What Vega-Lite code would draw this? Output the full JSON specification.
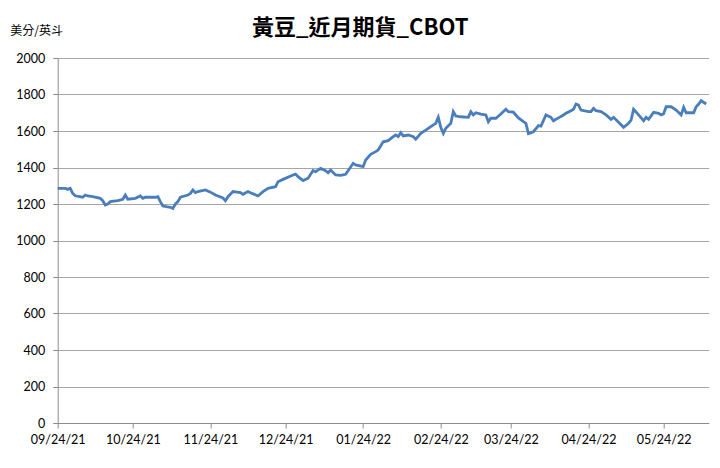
{
  "$schema": "https://vega.github.io/schema/vega-lite/v6.json",
  "width": 651,
  "height": 365,
  "autosize": "none",
  "padding": {"left": 57.7, "top": 58, "right": 11.3, "bottom": 45},
  "background": "white",
  "title": {
    "text": "黃豆_近月期貨_CBOT",
    "font": "Noto Sans CJK TC",
    "fontSize": 22,
    "fontWeight": "bold",
    "color": "#000000",
    "anchor": "middle",
    "frame": "group",
    "dx": -23,
    "dy": 28,
    "offset": 12
  },
  "data": {
    "format": {"parse": {"date": "date:'%Y-%m-%d'"}},
    "values": [
      {"date": "2021-09-24", "price": 1286}, {"date": "2021-09-27", "price": 1286}, {"date": "2021-09-28", "price": 1280},
      {"date": "2021-09-29", "price": 1286}, {"date": "2021-09-30", "price": 1258}, {"date": "2021-10-01", "price": 1245},
      {"date": "2021-10-04", "price": 1237}, {"date": "2021-10-05", "price": 1249}, {"date": "2021-10-06", "price": 1244},
      {"date": "2021-10-08", "price": 1240}, {"date": "2021-10-11", "price": 1231}, {"date": "2021-10-12", "price": 1218},
      {"date": "2021-10-13", "price": 1195}, {"date": "2021-10-14", "price": 1200}, {"date": "2021-10-15", "price": 1213},
      {"date": "2021-10-18", "price": 1218}, {"date": "2021-10-20", "price": 1226}, {"date": "2021-10-21", "price": 1249},
      {"date": "2021-10-22", "price": 1226}, {"date": "2021-10-25", "price": 1231}, {"date": "2021-10-27", "price": 1244},
      {"date": "2021-10-28", "price": 1231}, {"date": "2021-10-29", "price": 1237}, {"date": "2021-11-02", "price": 1237},
      {"date": "2021-11-03", "price": 1240}, {"date": "2021-11-04", "price": 1213}, {"date": "2021-11-05", "price": 1189},
      {"date": "2021-11-08", "price": 1182}, {"date": "2021-11-09", "price": 1176}, {"date": "2021-11-10", "price": 1200},
      {"date": "2021-11-11", "price": 1213}, {"date": "2021-11-12", "price": 1237}, {"date": "2021-11-15", "price": 1249},
      {"date": "2021-11-16", "price": 1258}, {"date": "2021-11-17", "price": 1277}, {"date": "2021-11-18", "price": 1262},
      {"date": "2021-11-19", "price": 1268}, {"date": "2021-11-22", "price": 1277}, {"date": "2021-11-24", "price": 1265},
      {"date": "2021-11-26", "price": 1249}, {"date": "2021-11-29", "price": 1233}, {"date": "2021-11-30", "price": 1218},
      {"date": "2021-12-01", "price": 1240}, {"date": "2021-12-03", "price": 1268}, {"date": "2021-12-06", "price": 1262},
      {"date": "2021-12-07", "price": 1253}, {"date": "2021-12-09", "price": 1268}, {"date": "2021-12-10", "price": 1262},
      {"date": "2021-12-13", "price": 1244}, {"date": "2021-12-15", "price": 1268}, {"date": "2021-12-17", "price": 1286},
      {"date": "2021-12-20", "price": 1295}, {"date": "2021-12-21", "price": 1322}, {"date": "2021-12-23", "price": 1335},
      {"date": "2021-12-27", "price": 1359}, {"date": "2021-12-28", "price": 1364}, {"date": "2021-12-29", "price": 1350},
      {"date": "2021-12-31", "price": 1328}, {"date": "2022-01-02", "price": 1341}, {"date": "2022-01-04", "price": 1383},
      {"date": "2022-01-05", "price": 1377}, {"date": "2022-01-07", "price": 1395}, {"date": "2022-01-09", "price": 1383},
      {"date": "2022-01-10", "price": 1371}, {"date": "2022-01-11", "price": 1386}, {"date": "2022-01-13", "price": 1359},
      {"date": "2022-01-15", "price": 1357}, {"date": "2022-01-17", "price": 1363}, {"date": "2022-01-20", "price": 1423},
      {"date": "2022-01-21", "price": 1414}, {"date": "2022-01-24", "price": 1405}, {"date": "2022-01-25", "price": 1441},
      {"date": "2022-01-27", "price": 1472}, {"date": "2022-01-29", "price": 1487}, {"date": "2022-01-30", "price": 1496},
      {"date": "2022-02-01", "price": 1541}, {"date": "2022-02-03", "price": 1547}, {"date": "2022-02-05", "price": 1569},
      {"date": "2022-02-06", "price": 1578}, {"date": "2022-02-07", "price": 1569}, {"date": "2022-02-08", "price": 1591},
      {"date": "2022-02-09", "price": 1573}, {"date": "2022-02-11", "price": 1578}, {"date": "2022-02-13", "price": 1569},
      {"date": "2022-02-14", "price": 1555}, {"date": "2022-02-16", "price": 1587}, {"date": "2022-02-18", "price": 1605},
      {"date": "2022-02-20", "price": 1624}, {"date": "2022-02-22", "price": 1642}, {"date": "2022-02-23", "price": 1675},
      {"date": "2022-02-24", "price": 1620}, {"date": "2022-02-25", "price": 1587}, {"date": "2022-02-26", "price": 1615},
      {"date": "2022-02-28", "price": 1642}, {"date": "2022-03-01", "price": 1706}, {"date": "2022-03-02", "price": 1682},
      {"date": "2022-03-04", "price": 1678}, {"date": "2022-03-07", "price": 1675}, {"date": "2022-03-08", "price": 1706},
      {"date": "2022-03-09", "price": 1688}, {"date": "2022-03-10", "price": 1700}, {"date": "2022-03-12", "price": 1693},
      {"date": "2022-03-14", "price": 1688}, {"date": "2022-03-15", "price": 1651}, {"date": "2022-03-16", "price": 1670},
      {"date": "2022-03-18", "price": 1670}, {"date": "2022-03-20", "price": 1693}, {"date": "2022-03-22", "price": 1719},
      {"date": "2022-03-23", "price": 1706}, {"date": "2022-03-25", "price": 1703}, {"date": "2022-03-27", "price": 1672},
      {"date": "2022-03-29", "price": 1651}, {"date": "2022-03-30", "price": 1642}, {"date": "2022-03-31", "price": 1586},
      {"date": "2022-04-02", "price": 1596}, {"date": "2022-04-04", "price": 1630}, {"date": "2022-04-05", "price": 1627},
      {"date": "2022-04-07", "price": 1688}, {"date": "2022-04-09", "price": 1675}, {"date": "2022-04-10", "price": 1656},
      {"date": "2022-04-12", "price": 1672}, {"date": "2022-04-14", "price": 1688}, {"date": "2022-04-15", "price": 1697},
      {"date": "2022-04-17", "price": 1711}, {"date": "2022-04-18", "price": 1719}, {"date": "2022-04-19", "price": 1748},
      {"date": "2022-04-20", "price": 1742}, {"date": "2022-04-21", "price": 1715}, {"date": "2022-04-24", "price": 1706},
      {"date": "2022-04-25", "price": 1706}, {"date": "2022-04-26", "price": 1724}, {"date": "2022-04-27", "price": 1711},
      {"date": "2022-04-29", "price": 1706}, {"date": "2022-05-01", "price": 1688}, {"date": "2022-05-03", "price": 1664},
      {"date": "2022-05-04", "price": 1675}, {"date": "2022-05-06", "price": 1648}, {"date": "2022-05-08", "price": 1620},
      {"date": "2022-05-10", "price": 1642}, {"date": "2022-05-11", "price": 1660}, {"date": "2022-05-12", "price": 1719},
      {"date": "2022-05-14", "price": 1688}, {"date": "2022-05-16", "price": 1656}, {"date": "2022-05-17", "price": 1675},
      {"date": "2022-05-18", "price": 1664}, {"date": "2022-05-20", "price": 1702}, {"date": "2022-05-22", "price": 1697},
      {"date": "2022-05-23", "price": 1688}, {"date": "2022-05-24", "price": 1695}, {"date": "2022-05-25", "price": 1733},
      {"date": "2022-05-27", "price": 1733}, {"date": "2022-05-29", "price": 1715}, {"date": "2022-05-31", "price": 1688},
      {"date": "2022-06-01", "price": 1730}, {"date": "2022-06-02", "price": 1700}, {"date": "2022-06-05", "price": 1700},
      {"date": "2022-06-06", "price": 1733}, {"date": "2022-06-07", "price": 1748}, {"date": "2022-06-08", "price": 1766},
      {"date": "2022-06-10", "price": 1748}
    ]
  },
  "mark": {"type": "line", "color": "#4a7ebb", "strokeWidth": 2.8, "interpolate": "linear"},
  "encoding": {
    "x": {
      "field": "date",
      "type": "temporal",
      "scale": {"domain": [{"year": 2021, "month": 9, "date": 24}, {"year": 2022, "month": 6, "date": 11}]},
      "axis": {
        "title": null,
        "format": "%m/%d/%y",
        "values": [
          {"year": 2021, "month": 9, "date": 24}, {"year": 2021, "month": 10, "date": 24},
          {"year": 2021, "month": 11, "date": 24}, {"year": 2021, "month": 12, "date": 24},
          {"year": 2022, "month": 1, "date": 24}, {"year": 2022, "month": 2, "date": 24},
          {"year": 2022, "month": 3, "date": 24}, {"year": 2022, "month": 4, "date": 24},
          {"year": 2022, "month": 5, "date": 24}
        ],
        "grid": false,
        "labelFont": "Lato",
        "labelFontSize": 12.5,
        "labelColor": "#000000",
        "labelPadding": 5,
        "labelFlush": false,
        "labelOverlap": false,
        "tickColor": "#8c8c8c",
        "tickSize": 5,
        "domainColor": "#8c8c8c"
      }
    },
    "y": {
      "field": "price",
      "type": "quantitative",
      "scale": {"domain": [0, 2000], "nice": false},
      "axis": {
        "values": [0, 200, 400, 600, 800, 1000, 1200, 1400, 1600, 1800, 2000],
        "format": "d",
        "title": "美分/英斗",
        "titleFont": "Noto Sans CJK TC",
        "titleFontSize": 12,
        "titleFontWeight": "normal",
        "titleColor": "#000000",
        "titleAngle": 0,
        "titleAlign": "left",
        "titleBaseline": "middle",
        "titleX": -48,
        "titleY": -28,
        "labelFont": "Lato",
        "labelFontSize": 12.5,
        "labelColor": "#000000",
        "labelPadding": 8,
        "tickColor": "#8c8c8c",
        "tickSize": 5,
        "domainColor": "#8c8c8c",
        "gridColor": "#a6a6a6",
        "gridWidth": 1
      }
    }
  },
  "config": {"view": {"stroke": null}}
}
